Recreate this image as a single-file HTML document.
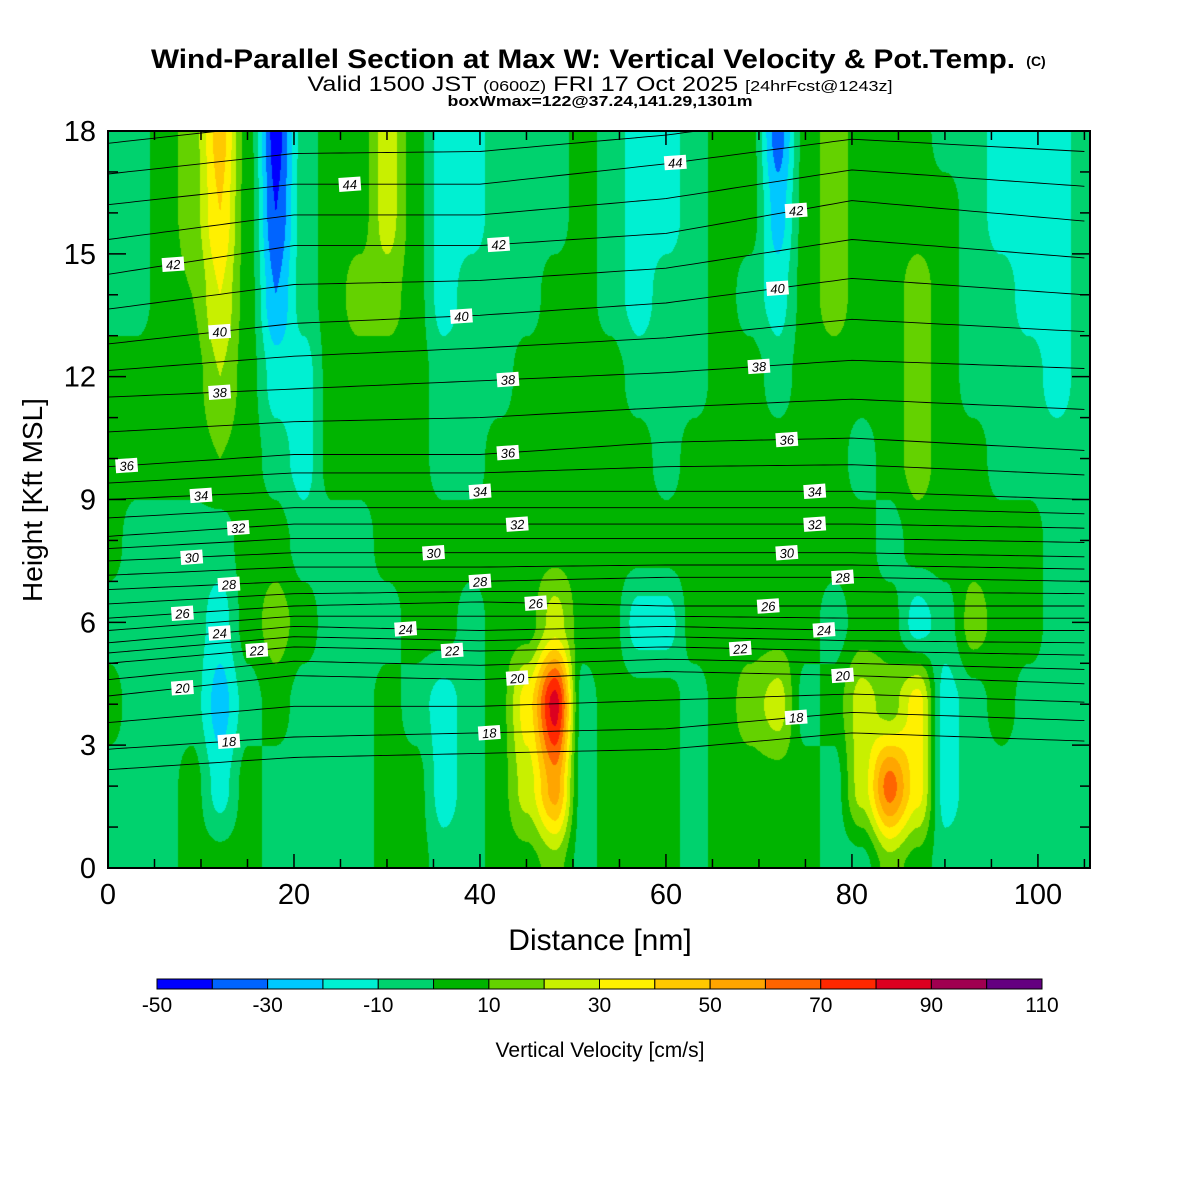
<!DOCTYPE html>
<html><head><meta charset="utf-8"><style>
html,body{margin:0;padding:0;background:#fff;}
#wrap{position:relative;width:1200px;height:1200px;overflow:hidden;}
canvas{position:absolute;left:108px;top:131px;}
svg{position:absolute;left:0;top:0;}
</style></head><body>
<div id="wrap">
<canvas id="field" width="982" height="737"></canvas>
<svg id="svg" width="1200" height="1200" font-family="Liberation Sans, sans-serif">
<text x="583" y="68" text-anchor="middle" font-size="27" font-weight="bold" textLength="864" lengthAdjust="spacingAndGlyphs">Wind-Parallel Section at Max W: Vertical Velocity &amp; Pot.Temp.</text>
<text x="1036" y="66" text-anchor="middle" font-size="14" font-weight="bold">(C)</text>
<text x="600" y="91" text-anchor="middle" font-size="21" textLength="585" lengthAdjust="spacingAndGlyphs">Valid 1500 JST <tspan font-size="15">(0600Z)</tspan> FRI 17 Oct 2025 <tspan font-size="15">[24hrFcst@1243z]</tspan></text>
<text x="600" y="106" text-anchor="middle" font-size="15" font-weight="bold" textLength="305" lengthAdjust="spacingAndGlyphs">boxWmax=122@37.24,141.29,1301m</text>
<g id="lines"></g>
<g id="labels"></g>
<rect x="108" y="131" width="982" height="737" fill="none" stroke="#000" stroke-width="2"/>
<g id="axes"></g>
<text x="600" y="950" text-anchor="middle" font-size="30">Distance [nm]</text>
<text transform="translate(42,500) rotate(-90)" text-anchor="middle" font-size="28">Height [Kft MSL]</text>
<g id="cbar"></g>
<text x="600" y="1057" text-anchor="middle" font-size="21">Vertical Velocity [cm/s]</text>
</svg>
</div>
<script>
// ---- data ----
const colCoordsNm = [0,3,6,9,12,15,18,21,24,27,30,33,36,39,42,45,48,51,54,57,60,63,66,69,72,75,78,81,84,87,90,93,96,99,102,105];
const rowHeightsKft = [18,16,14,12,10,8,6,4,2,0];
const wRow18 = [-5,-5,5,15,45,5,-45,-5,5,5,25,5,-15,-15,-5,-5,-5,5,-5,-15,-15,-5,5,5,-35,5,15,5,5,5,-5,-5,-15,-15,-15,-5];
const wRow16 = [-5,-5,5,15,40,5,-40,-5,5,5,25,5,-15,-15,-5,-5,-5,5,-5,-15,-15,-5,5,5,-25,5,15,5,5,5,5,-5,-15,-15,-15,-5];
const wRow14 = [-5,-5,5,10,30,5,-30,-5,5,15,15,5,-15,-5,-5,-5,5,5,-5,-15,-5,-5,5,-5,-15,5,15,5,5,15,5,-5,-5,-15,-15,-5];
const wRow12 = [5,5,5,5,20,5,-15,-15,5,5,5,5,-5,-5,-5,5,5,5,5,-5,-5,-5,5,5,-5,5,5,5,5,15,5,-5,-5,-5,-15,-5];
const wRow10 = [5,5,5,5,10,5,-5,-15,5,5,5,5,-5,-5,5,5,5,5,5,5,-5,5,5,5,5,5,5,-5,5,15,5,5,-5,-5,-5,-5];
const wRow8  = [5,-5,-5,-5,-5,5,5,-5,-5,-5,5,5,5,5,5,5,5,5,5,5,5,5,5,5,5,5,5,5,-5,5,5,5,5,5,-5,-5];
const wRow6  = [-5,-5,-5,-5,-15,5,15,5,-5,-5,-5,5,5,-5,5,5,25,5,5,-15,-15,5,5,5,5,5,-5,5,5,-15,-5,15,5,5,-5,-5];
const wRow4  = [5,-5,-5,-5,-25,-5,5,-5,-5,-5,5,-5,-15,-5,5,35,85,-5,5,5,5,-5,5,15,25,-5,5,25,15,35,-15,-5,5,-5,-5,-5];
const wRow2  = [-5,-5,-5,5,-15,5,-5,-5,-5,-5,5,5,-15,-5,5,25,55,-5,5,5,5,-5,5,5,5,5,-5,25,65,35,-15,-5,-5,-5,-5,-5];
const wRow0  = [-5,-5,-5,5,5,5,-5,-5,-5,-5,5,5,-5,-5,5,5,15,-5,5,5,5,-5,5,5,5,5,-5,-5,15,5,-5,-5,-5,-5,-5,-5];
const colorLevels = [-50,-40,-30,-20,-10,0,10,20,30,40,50,60,70,80,90,100,110];
const colorbarLabels = [-50,-30,-10,10,30,50,70,90,110];
const thetaLevels = [18,20,22,24,26,28,30,32,34,36,38,40,42,44,46];
const thetaAnchorX = [0,20,40,60,80,105];
const th18=[2.9,3.2,3.3,3.4,3.8,3.6], th20=[4.2,4.7,4.6,4.8,4.7,4.5], th22=[5.0,5.4,5.3,5.4,5.3,5.2],
      th24=[5.5,5.9,5.8,5.9,5.8,5.8], th26=[6.1,6.4,6.5,6.4,6.4,6.4], th28=[6.8,7.0,7.0,7.1,7.1,7.0],
      th30=[7.5,7.7,7.7,7.7,7.7,7.6], th32=[8.1,8.4,8.4,8.4,8.4,8.3], th34=[9.0,9.2,9.2,9.2,9.2,9.0],
      th36=[9.8,10.1,10.1,10.4,10.5,10.2], th38=[11.5,11.7,11.9,12.1,12.4,12.2], th40=[12.8,13.3,13.5,13.8,14.4,14.0],
      th42=[14.5,15.2,15.2,15.5,16.3,15.8], th44=[16.2,16.7,16.7,17.2,17.8,17.5], th46=[17.7,18.2,18.3,18.6,19.2,19.0];
const labelTheta = [18,18,18,20,20,20,22,22,22,24,24,24,26,26,26,28,28,28,30,30,30,32,32,32,34,34,34,36,36,36,38,38,38,40,40,40,42,42,42,44,44];
const labelX     = [13,41,74,8,44,79,16,37,68,12,32,77,8,46,71,13,40,79,9,35,73,14,44,76,10,40,76,2,43,73,12,43,70,12,38,72,7,42,74,26,61];
const xTicks=[0,20,40,60,80,100], yTicks=[0,3,6,9,12,15,18];

const W0=108,W1=1090,H0=868,H1=131, XMAX=105.6, YMAX=18;
const xs=v=>W0+v*(W1-W0)/XMAX, ys=v=>H0-v*(H0-H1)/YMAX;
const colors=['#0000ff','#0064ff','#00c8ff','#00f0d2','#00d26e','#00b400','#64d200','#c8f000','#fff000','#ffc800','#ffa500','#ff6400','#ff2800','#dc0020','#a00050','#640080'];
const grid=[wRow18,wRow16,wRow14,wRow12,wRow10,wRow8,wRow6,wRow4,wRow2,wRow0];
const NS='http://www.w3.org/2000/svg';
function mk(t,a,p){const e=document.createElementNS(NS,t);for(const k in a)e.setAttribute(k,a[k]);p.appendChild(e);return e;}
function hex(c){return [parseInt(c.slice(1,3),16),parseInt(c.slice(3,5),16),parseInt(c.slice(5,7),16)];}
const rgb=colors.map(hex);
function wAt(nm,h){
  let i=Math.min(colCoordsNm.length-2,Math.max(0,Math.floor(nm/3)));
  let fx=Math.min(1,Math.max(0,(nm-colCoordsNm[i])/(colCoordsNm[i+1]-colCoordsNm[i])));
  let r=Math.min(rowHeightsKft.length-2,Math.max(0,Math.floor((18-h)/2)));
  let fy=Math.min(1,Math.max(0,(rowHeightsKft[r]-h)/(rowHeightsKft[r]-rowHeightsKft[r+1])));
  const a=grid[r][i],b=grid[r][i+1],c=grid[r+1][i],d=grid[r+1][i+1];
  fx=fx*fx*(3-2*fx); fy=fy*fy*(3-2*fy);
  return (a*(1-fx)+b*fx)*(1-fy)+(c*(1-fx)+d*fx)*fy;
}
const cv=document.getElementById('field'),ctx=cv.getContext('2d');
const img=ctx.createImageData(cv.width,cv.height);
for(let py=0;py<cv.height;py++){const h=(H0-(H1+py))*YMAX/(H0-H1);
  for(let px=0;px<cv.width;px++){const nm=px*XMAX/(W1-W0);const w=wAt(nm,h);
    let k=Math.floor((w-colorLevels[0])/10);k=Math.max(0,Math.min(15,k));const c=rgb[k];const o=(py*cv.width+px)*4;
    img.data[o]=c[0];img.data[o+1]=c[1];img.data[o+2]=c[2];img.data[o+3]=255;}}
ctx.putImageData(img,0,0);
const thetaH=[th18,th20,th22,th24,th26,th28,th30,th32,th34,th36,th38,th40,th42,th44,th46];
function hAt(arr,nm){for(let i=0;i<thetaAnchorX.length-1;i++){if(nm<=thetaAnchorX[i+1]||i==thetaAnchorX.length-2){const f=(nm-thetaAnchorX[i])/(thetaAnchorX[i+1]-thetaAnchorX[i]);return arr[i]*(1-f)+arr[i+1]*f;}}}
function thetaLineH(theta,nm){const idx=(theta-18)/2;const i0=Math.floor(idx),f=idx-i0;
  if(f===0)return hAt(thetaH[i0],nm);return hAt(thetaH[i0],nm)*(1-f)+hAt(thetaH[i0+1],nm)*f;}
const lg=document.getElementById('lines');
const clip=mk('clipPath',{id:'pc'},lg);mk('rect',{x:W0,y:H1,width:W1-W0,height:H0-H1},clip);
lg.setAttribute('clip-path','url(#pc)');
for(let t=17;t<=46;t++){
  const tt=Math.max(18,t);let d='';
  for(let nm=0;nm<=XMAX;nm+=1){let h=thetaLineH(tt,nm);if(t===17)h-=0.5;d+=(nm?'L':'M')+xs(nm).toFixed(1)+','+ys(h).toFixed(1);}
  const p=mk('path',{d:d,fill:'none',stroke:'#000','stroke-width':0.9},lg);
  
  
}
const lb=document.getElementById('labels');
labelTheta.forEach((t,i)=>{const x=xs(labelX[i]),y=ys(thetaLineH(t,labelX[i]));
  const g=mk('g',{transform:`translate(${x.toFixed(1)},${y.toFixed(1)}) rotate(-4)`},lb);
  
  
  mk('rect',{x:-11,y:-7,width:22,height:14,fill:'#fff'},g);
  const tx=mk('text',{x:0,y:5,'text-anchor':'middle','font-size':13,'font-style':'italic'},g);tx.textContent=t;});
const ax=document.getElementById('axes');
for(let v=0;v<=105;v+=5){const x=xs(v),L=v%20===0?14:9;
  const a=mk('line',{x1:x,y1:H0,x2:x,y2:H0-L,stroke:'#000','stroke-width':1.5},ax);
  mk('line',{x1:x,y1:H1,x2:x,y2:H1+L,stroke:'#000','stroke-width':1.5},ax);}
xTicks.forEach(v=>{const t=mk('text',{x:xs(v),y:904,'text-anchor':'middle','font-size':29},ax);t.textContent=v;
  });
for(let v=0;v<=18;v+=1){const y=ys(v),L=v%3===0?18:10;
  const a=mk('line',{x1:W0,y1:y,x2:W0+L,y2:y,stroke:'#000','stroke-width':1.5},ax);
  mk('line',{x1:W1,y1:y,x2:W1-L,y2:y,stroke:'#000','stroke-width':1.5},ax);}
yTicks.forEach(v=>{const t=mk('text',{x:96,y:ys(v)+10,'text-anchor':'end','font-size':29},ax);t.textContent=v;
  });
const cb=document.getElementById('cbar');const C0=157,C1=1042,bw=(C1-C0)/16;
colors.forEach((c,i)=>{const r=mk('rect',{x:C0+i*bw,y:979,width:bw,height:10,fill:c,stroke:'#000','stroke-width':1},cb);
  });
colorbarLabels.forEach(v=>{const x=C0+(v-colorLevels[0])/10*bw;const t=mk('text',{x:x,y:1012,'text-anchor':'middle','font-size':21},cb);t.textContent=v;
  });
</script>
</body></html>
